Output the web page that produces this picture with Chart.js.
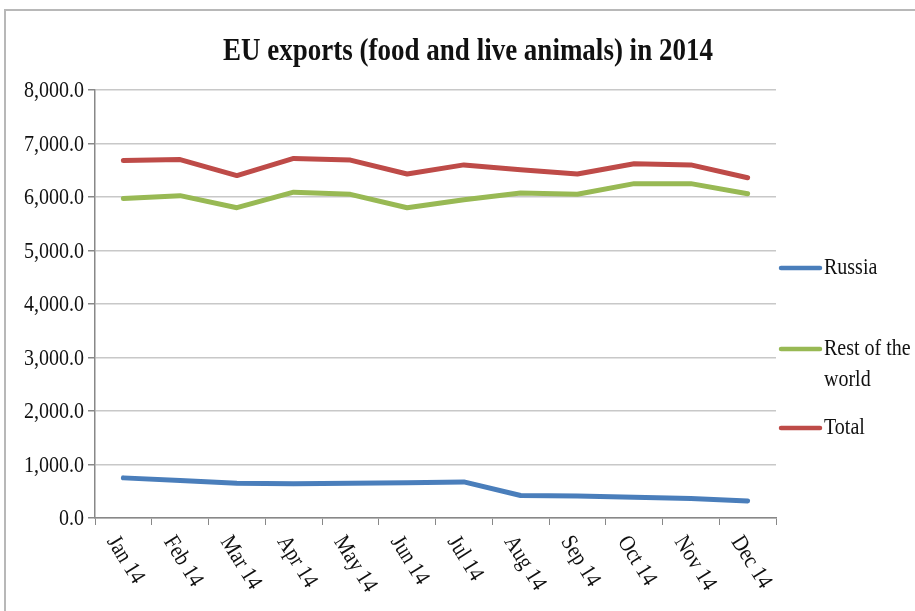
<!DOCTYPE html>
<html>
<head>
<meta charset="utf-8">
<script src="https://cdn.jsdelivr.net/npm/chart.js@4"></script>
<style>
  html, body { margin: 0; padding: 0; background: #fff; }
  #wrap { width: 915px; height: 611px; position: relative; }
</style>
</head>
<body>
<div id="wrap"><canvas id="chart" width="915" height="611"></canvas></div>
<script>
const months = ['Jan 14', 'Feb 14', 'Mar 14', 'Apr 14', 'May 14', 'Jun 14',
                'Jul 14', 'Aug 14', 'Sep 14', 'Oct 14', 'Nov 14', 'Dec 14'];
const russia = [750, 700, 650, 640, 650, 660, 675, 420, 410, 390, 365, 320];
const restOfWorld = [5970, 6025, 5800, 6090, 6050, 5800, 5950, 6075, 6050, 6250, 6250, 6060];
const total = [6680, 6700, 6400, 6720, 6690, 6430, 6600, 6510, 6430, 6620, 6600, 6360];
const yTicks = [0, 1000, 2000, 3000, 4000, 5000, 6000, 7000, 8000];
const chartTitle = 'EU exports (food and live animals) in 2014';

const serif = '"Liberation Serif", "Times New Roman", serif';

// text in the original looks tall and narrow, so stretch it a bit vertically
function tallText(ctx, text, x, y, sy) {
    ctx.save();
    ctx.translate(x, y);
    ctx.scale(1, sy);
    ctx.fillText(text, 0, 0);
    ctx.restore();
}

// frame, title, slanted month labels and the legend on the right
const decor = {
    id: 'decor',
    beforeDraw(chart) {
        const ctx = chart.ctx;
        ctx.save();
        ctx.strokeStyle = '#b8b8b8';
        ctx.lineWidth = 2;
        ctx.beginPath();
        ctx.moveTo(5, 611);
        ctx.lineTo(5, 10);
        ctx.lineTo(915, 10);
        ctx.stroke();
        ctx.restore();
    },
    afterDraw(chart) {
        const ctx = chart.ctx;
        const x = chart.scales.x;
        const y = chart.scales.y;
        ctx.save();
        ctx.fillStyle = '#111';
        ctx.font = 'bold 27px ' + serif;
        ctx.textAlign = 'center';
        ctx.textBaseline = 'middle';
        tallText(ctx, chartTitle, 468, 52, 1.2);

        // y tick labels
        ctx.font = '20px ' + serif;
        ctx.textAlign = 'right';
        yTicks.forEach(v => {
            const s = v.toLocaleString('en-US', { minimumFractionDigits: 1, maximumFractionDigits: 1 });
            tallText(ctx, s, 84, y.getPixelForValue(v) + 1, 1.2);
        });

        ctx.font = '20px ' + serif;
        ctx.textAlign = 'left';
        ctx.textBaseline = 'top';
        months.forEach((m, i) => {
            ctx.save();
            ctx.translate(x.getPixelForTick(i) - 2, x.top + 14);
            ctx.rotate(58 * Math.PI / 180);
            ctx.scale(1, 1.15);
            ctx.fillText(m, 0, 0);
            ctx.restore();
        });

        const rows = [268, 349, 428];
        ctx.font = '20px ' + serif;
        ctx.textBaseline = 'middle';
        chart.data.datasets.forEach((ds, i) => {
            const ly = rows[i];
            ctx.strokeStyle = ds.borderColor;
            ctx.lineWidth = 4.5;
            ctx.lineCap = 'round';
            ctx.beginPath();
            ctx.moveTo(781, ly);
            ctx.lineTo(820, ly);
            ctx.stroke();
            ctx.fillStyle = '#111';
            const words = ds.label.split(' ');
            let line = '', lines = [];
            words.forEach(w => {
                const t = line ? line + ' ' + w : w;
                if (ctx.measureText(t).width > 92 && line) { lines.push(line); line = w; }
                else line = t;
            });
            lines.push(line);
            lines.forEach((l, k) => tallText(ctx, l, 824, ly + k * 31, 1.2));
        });
        ctx.restore();
    }
};

new Chart(document.getElementById('chart'), {
    type: 'line',
    data: {
        labels: months,
        datasets: [
            { label: 'Russia', data: russia, borderColor: '#4a7ebb' },
            { label: 'Rest of the world', data: restOfWorld, borderColor: '#98b954' },
            { label: 'Total', data: total, borderColor: '#be4b48' }
        ]
    },
    options: {
        responsive: false,
        animation: false,
        elements: {
            line: { borderWidth: 5, tension: 0, borderCapStyle: 'round', borderJoinStyle: 'round' },
            point: { radius: 0 }
        },
        layout: { padding: { left: 0, right: 139, top: 90, bottom: 0 } },
        plugins: {
            legend: { display: false },
            title: { display: false },
            tooltip: { enabled: false }
        },
        scales: {
            x: {
                offset: true,
                grid: { offset: true, drawOnChartArea: false, color: '#888', tickLength: 7, tickColor: '#888' },
                border: { color: '#888', width: 1.5 },
                ticks: { display: false },
                afterFit(scale) { scale.height = 93; }
            },
            y: {
                min: 0,
                max: 8000,
                afterBuildTicks(scale) { scale.ticks = yTicks.map(v => ({ value: v })); },
                grid: { color: '#c8c8c8', lineWidth: 1.5, tickLength: 7, tickColor: '#888' },
                border: { color: '#888', width: 1.5 },
                ticks: { display: false },
                afterFit(scale) { scale.width = 95; }
            }
        }
    },
    plugins: [decor]
});
</script>
</body>
</html>
